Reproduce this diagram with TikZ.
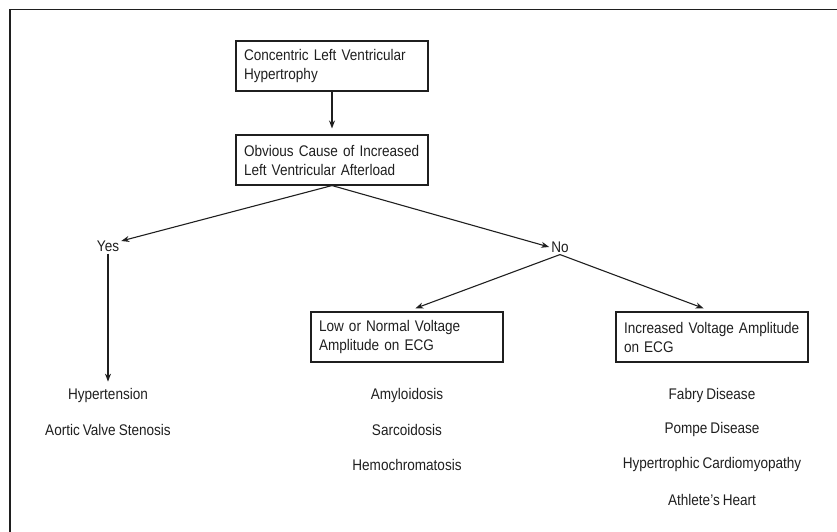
\documentclass[tikz,border=0pt]{standalone}
\usepackage{fontspec}
\setmainfont{Liberation Sans}[FakeStretch=0.88,WordSpace=0.8]
\usetikzlibrary{arrows.meta,positioning}
\tikzset{
  box/.style={draw, line width=1.1pt, text width=176pt, inner xsep=8pt, inner ysep=6pt, minimum height=50pt, align=left},
  item/.style={inner sep=2pt, align=center},
  link/.style={line width=1.1pt, -{Stealth[length=8pt,width=6pt]}}
}
\begin{document}
\begin{tikzpicture}[x=1pt,y=-1pt,font=\fontsize{15.4}{19}\selectfont,color=black!88]
\useasboundingbox (0,0) rectangle (837,532);
\draw[line width=1.4pt] (10,532) -- (10,9.5) -- (837,9.5);

\node[box] (clvh) at (332,66) {\mbox{Concentric Left Ventricular}\\Hypertrophy};
\node[box] (cause) at (332,160) {\mbox{Obvious Cause of Increased}\\\mbox{Left Ventricular Afterload}};
\node[item] (yes) at (108,246) {Yes};
\node[item] (no) at (560,247) {No};
\node[box] (low) at (407,337) {\mbox{Low or Normal Voltage}\\\mbox{Amplitude on ECG}};
\node[box] (high) at (712,337) {\mbox{Increased Voltage Amplitude}\\\mbox{on ECG}};

\node[item] (hyp) at (108,396) {Hypertension};
\node[item] (avs) at (108,430) {Aortic Valve Stenosis};

\node[item] (amy) at (407,396) {Amyloidosis};
\node[item] (sar) at (407,430) {Sarcoidosis};
\node[item] (hem) at (407,465) {Hemochromatosis};

\node[item] (fab) at (712,396) {Fabry Disease};
\node[item] (pom) at (712,430) {Pompe Disease};
\node[item] (hcm) at (712,465) {Hypertrophic Cardiomyopathy};
\node[item] (ath) at (712,500) {Athlete's Heart};

\draw[link, shorten >=6pt] (clvh.south) -- (cause.north);
\draw[link] (cause.south) -- ([yshift=5pt]yes.east);
\draw[link] (cause.south) -- (no.west);
\draw[link, shorten >=5pt] (yes.south) -- (hyp.north);
\draw[link, shorten >=9pt] (no.south) -- (low.north);
\draw[link, shorten >=9pt] (no.south) -- (high.north);
\end{tikzpicture}
\end{document}
